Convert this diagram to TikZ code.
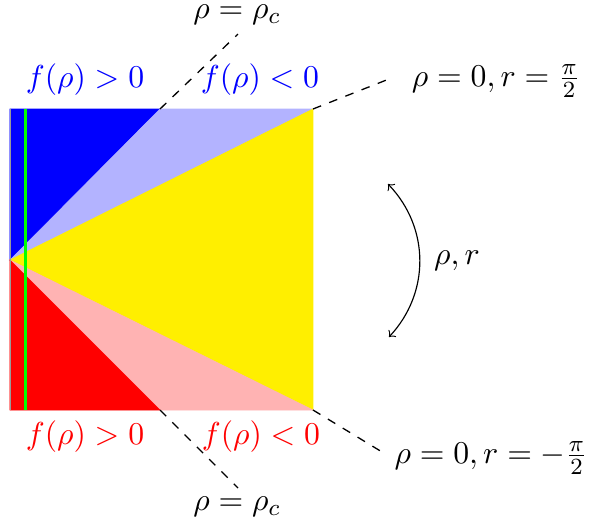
\documentclass[tikz,border=0pt]{standalone}
\definecolor{cblue}{RGB}{0,0,255}
\definecolor{clblue}{RGB}{179,179,255}
\definecolor{cyel}{RGB}{255,239,0}
\definecolor{cpink}{RGB}{255,179,179}
\definecolor{cred}{RGB}{255,0,0}
\definecolor{cgreen}{RGB}{0,255,0}
\tikzset{
  region/.style={fill=#1, draw=#1, line width=0.2pt},
  guide/.style={dashed, line width=0.45pt},
  lbl/.style={inner sep=0pt, font=\fontsize{10.9}{13}\selectfont},
}
\begin{document}
\begin{tikzpicture}[x=0.345pt,y=-0.345pt]
\useasboundingbox (0,0) rectangle (589,527);
\coordinate (A) at (10,260);
\coordinate (TL) at (10,109);
\coordinate (TM) at (160,109);
\coordinate (TR) at (313,109);
\coordinate (BR) at (313,410);
\coordinate (BM) at (160,410);
\coordinate (BL) at (10,410);
% regions
\fill[region=cblue] (TL) -- (TM) -- (A) -- cycle;
\fill[region=clblue] (TM) -- (TR) -- (A) -- cycle;
\fill[region=cyel] (TR) -- (BR) -- (A) -- cycle;
\fill[region=cpink] (BR) -- (BM) -- (A) -- cycle;
\fill[region=cred] (BM) -- (BL) -- (A) -- cycle;
\draw[gray!80, line width=0.25pt] (TL) -- (BL);
% green line
\coordinate (G1) at (25.5,109);
\coordinate (G2) at (25.5,410);
\draw[cgreen, line width=0.75pt] (G1) -- (G2);
% dashed guides
\coordinate (DT) at (238,34);
\coordinate (DB) at (238,488);
\coordinate (DTR) at (389,79);
\coordinate (DBR) at (387,455);
\draw[guide] (TM) -- (DT);
\draw[guide] (BM) -- (DB);
\draw[guide] (TR) -- (DTR);
\draw[guide] (BR) -- (DBR);
% labels
\node[lbl] (lt) at (237,15) {$\rho=\rho_c$};
\node[lbl] (lb) at (237,507) {$\rho=\rho_c$};
\node[lbl, text=cblue] (fb1) at (85,80) {$f(\rho)>0$};
\node[lbl, text=cblue] (fb2) at (260,80) {$f(\rho)<0$};
\node[lbl, text=cred] (fr1) at (85,437) {$f(\rho)>0$};
\node[lbl, text=cred] (fr2) at (261,437) {$f(\rho)<0$};
\node[lbl] (lp) at (496,81) {$\rho=0, r=\frac{\pi}{2}$};
\node[lbl] (lm) at (491,458) {$\rho=0, r=-\frac{\pi}{2}$};
\node[lbl] (lr) at (457,261) {$\rho, r$};
% curved arrow
\coordinate (AT) at (388,184);
\coordinate (AB) at (389,337);
\draw[<->, line width=0.4pt] (AT) .. controls (430,228) and (430,293) .. (AB);
\end{tikzpicture}
\end{document}
